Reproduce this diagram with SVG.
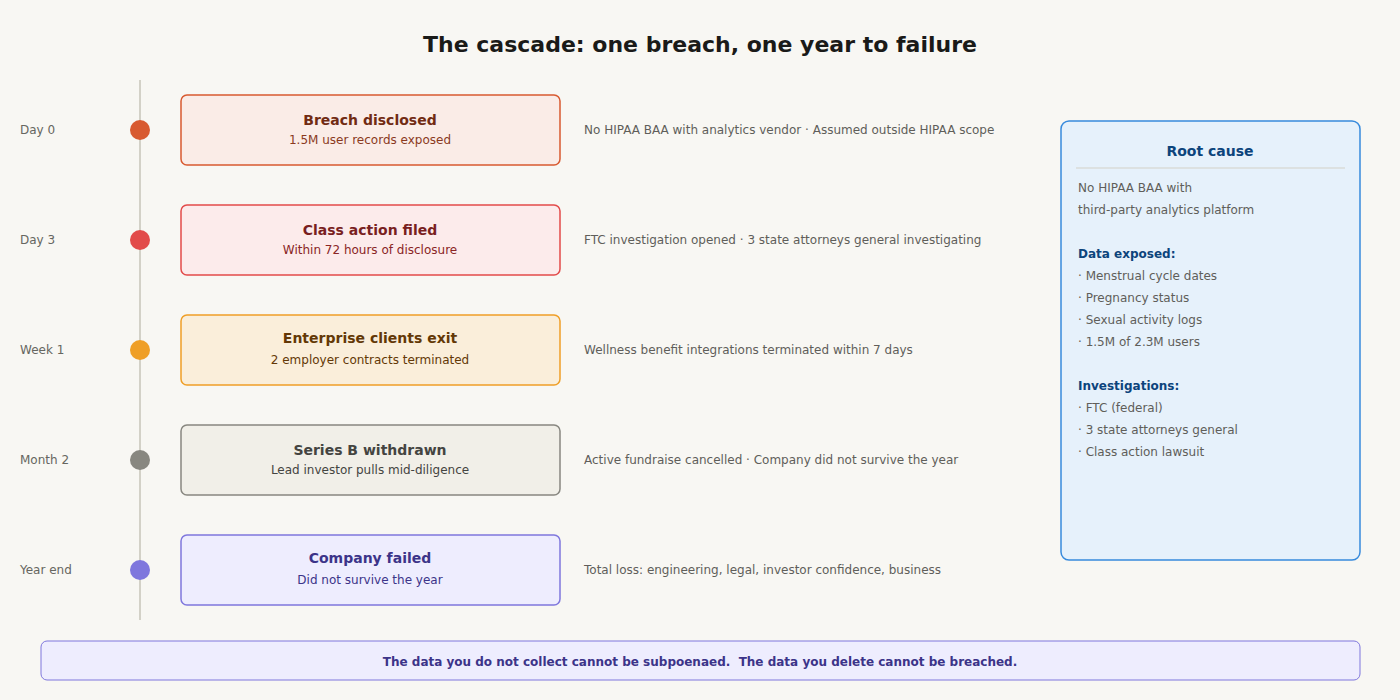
<svg xmlns="http://www.w3.org/2000/svg" width="1400" height="700" viewBox="0 0 1400 700">
<style>
text{font-family:"DejaVu Sans","Noto Sans",sans-serif}
.when{font-size:12px;fill:#666660}
.t{font-size:14px;font-weight:bold;text-anchor:middle}
.s{font-size:12px;text-anchor:middle}
.note{font-size:12px;fill:#5f5e5a}
.side{font-size:12px;fill:#5f5e5a}
.sh{font-size:12px;font-weight:bold;fill:#0c447c}
</style>
<rect width="1400" height="700" fill="#f8f7f3"/>
<text x="700" y="52" font-size="22" font-weight="bold" text-anchor="middle" fill="#1a1a18">The cascade: one breach, one year to failure</text>
<g id="connectors">
<line x1="140" y1="80" x2="140" y2="620" stroke="#d3d1c7" stroke-width="2"/>
</g>
<g id="n0">
<text class="when" x="20" y="134">Day 0</text>
<circle cx="140" cy="130" r="10" fill="#d85a30"/>
<rect x="181" y="95" width="379" height="70" rx="6" fill="#faece7" stroke="#d85a30" stroke-width="1.5"/>
<text class="t" x="370" y="125" fill="#712b13">Breach disclosed</text>
<text class="s" x="370" y="144" fill="#8a3a1e">1.5M user records exposed</text>
<text class="note" x="584" y="134">No HIPAA BAA with analytics vendor · Assumed outside HIPAA scope</text>
</g>
<g id="n1">
<text class="when" x="20" y="244">Day 3</text>
<circle cx="140" cy="240" r="10" fill="#e24b4a"/>
<rect x="181" y="205" width="379" height="70" rx="6" fill="#fcebeb" stroke="#e24b4a" stroke-width="1.5"/>
<text class="t" x="370" y="235" fill="#791f1f">Class action filed</text>
<text class="s" x="370" y="254" fill="#8a2525">Within 72 hours of disclosure</text>
<text class="note" x="584" y="244">FTC investigation opened · 3 state attorneys general investigating</text>
</g>
<g id="n2">
<text class="when" x="20" y="354">Week 1</text>
<circle cx="140" cy="350" r="10" fill="#ef9f27"/>
<rect x="181" y="315" width="379" height="70" rx="6" fill="#faeeda" stroke="#ef9f27" stroke-width="1.5"/>
<text class="t" x="370" y="343" fill="#633806">Enterprise clients exit</text>
<text class="s" x="370" y="364" fill="#633806">2 employer contracts terminated</text>
<text class="note" x="584" y="354">Wellness benefit integrations terminated within 7 days</text>
</g>
<g id="n3">
<text class="when" x="20" y="464">Month 2</text>
<circle cx="140" cy="460" r="10" fill="#888780"/>
<rect x="181" y="425" width="379" height="70" rx="6" fill="#f1efe8" stroke="#888780" stroke-width="1.5"/>
<text class="t" x="370" y="455" fill="#444441">Series B withdrawn</text>
<text class="s" x="370" y="474" fill="#444441">Lead investor pulls mid-diligence</text>
<text class="note" x="584" y="464">Active fundraise cancelled · Company did not survive the year</text>
</g>
<g id="n4">
<text class="when" x="20" y="574">Year end</text>
<circle cx="140" cy="570" r="10" fill="#7f77dd"/>
<rect x="181" y="535" width="379" height="70" rx="6" fill="#eeedfe" stroke="#7f77dd" stroke-width="1.5"/>
<text class="t" x="370" y="563" fill="#3c3489">Company failed</text>
<text class="s" x="370" y="584" fill="#3c3489">Did not survive the year</text>
<text class="note" x="584" y="574">Total loss: engineering, legal, investor confidence, business</text>
</g>
<g id="root-cause">
<rect x="1061" y="121" width="299" height="439" rx="8" fill="#e6f1fb" stroke="#378add" stroke-width="1.5"/>
<text x="1210" y="156" font-size="14" font-weight="bold" text-anchor="middle" fill="#0c447c">Root cause</text>
<line x1="1076" y1="168" x2="1345" y2="168" stroke="#d3d1c7" stroke-width="1"/>
<text class="side" x="1078" y="192">No HIPAA BAA with</text>
<text class="side" x="1078" y="214">third-party analytics platform</text>
<text class="sh" x="1078" y="258">Data exposed:</text>
<text class="side" x="1078" y="280">· Menstrual cycle dates</text>
<text class="side" x="1078" y="302">· Pregnancy status</text>
<text class="side" x="1078" y="324">· Sexual activity logs</text>
<text class="side" x="1078" y="346">· 1.5M of 2.3M users</text>
<text class="sh" x="1078" y="390">Investigations:</text>
<text class="side" x="1078" y="412">· FTC (federal)</text>
<text class="side" x="1078" y="434">· 3 state attorneys general</text>
<text class="side" x="1078" y="456">· Class action lawsuit</text>
</g>
<g id="banner">
<rect x="41" y="641" width="1319" height="39" rx="6" fill="#eeedfe" stroke="#7f77dd" stroke-width="1"/>
<text x="700" y="666" font-size="12" font-weight="bold" text-anchor="middle" fill="#3c3489" xml:space="preserve">The data you do not collect cannot be subpoenaed.  The data you delete cannot be breached.</text>
</g>
</svg>
